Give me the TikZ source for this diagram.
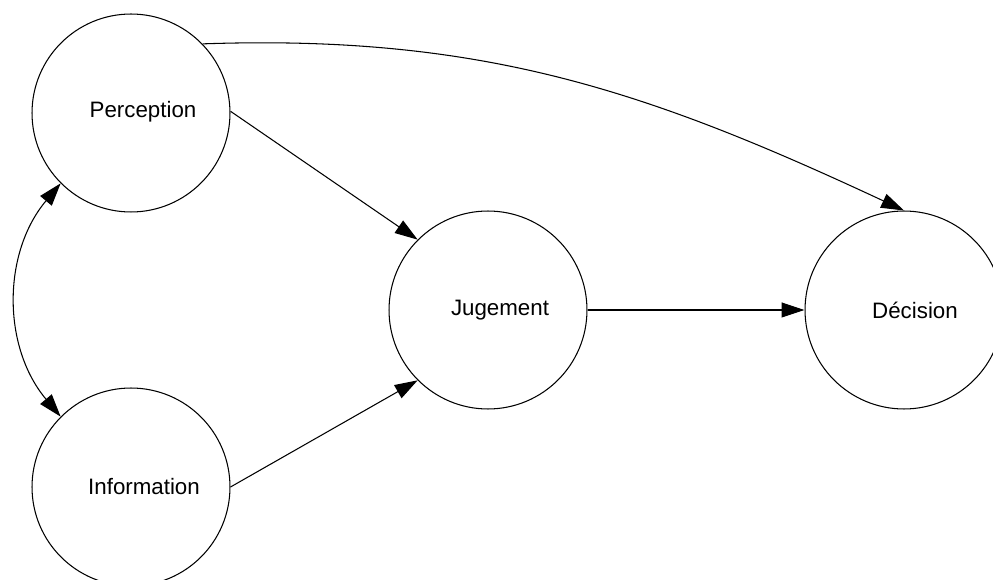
\documentclass[tikz,border=0pt]{standalone}
\usepackage{fontspec}
\setmainfont{Liberation Sans}
\usepackage{tikz}
\usetikzlibrary{positioning,arrows.meta}

\begin{document}
\begin{tikzpicture}[x=0.02cm,y=-0.02cm,
    bubble/.style={circle,draw,line width=0.6pt,minimum size=3.96cm,inner sep=0pt},
    word/.style={font=\fontsize{12.7}{15}\selectfont},
    link/.style={line width=0.6pt,-{Triangle[length=13pt,width=8.5pt]}}]
    % Frame of the picture
    \clip (0,0) rectangle (993,580);

    % Draw circles
    \node[bubble] (per) at (131,113) {};
    \node[bubble] (info) at (131,487) {};
    \node[bubble] (jug) at (488,310) {};
    \node[bubble] (dec) at (904,310) {};

    % Texts, a little right of centre
    \node[word] (perlbl) at (143,112) {Perception};
    \node[word] (infolbl) at (144,487) {Information};
    \node[word] (juglbl) at (500,310) {Jugement};
    \node[word] (declbl) at (915,310) {Décision};

    % Arrows
    \draw[link] (per.1) -- (jug.135);
    \draw[link] (info.east) -- (jug.225);
    \draw[link] (jug.east) -- (dec.west);
    \draw[link] (per.44) to[out=2,in=155] (dec.north);
    \draw[link,{Triangle[length=13pt,width=8.5pt]}-{Triangle[length=13pt,width=8.5pt]}]
        (per.225) to[bend right=40] (info.135);
\end{tikzpicture}
\end{document}
